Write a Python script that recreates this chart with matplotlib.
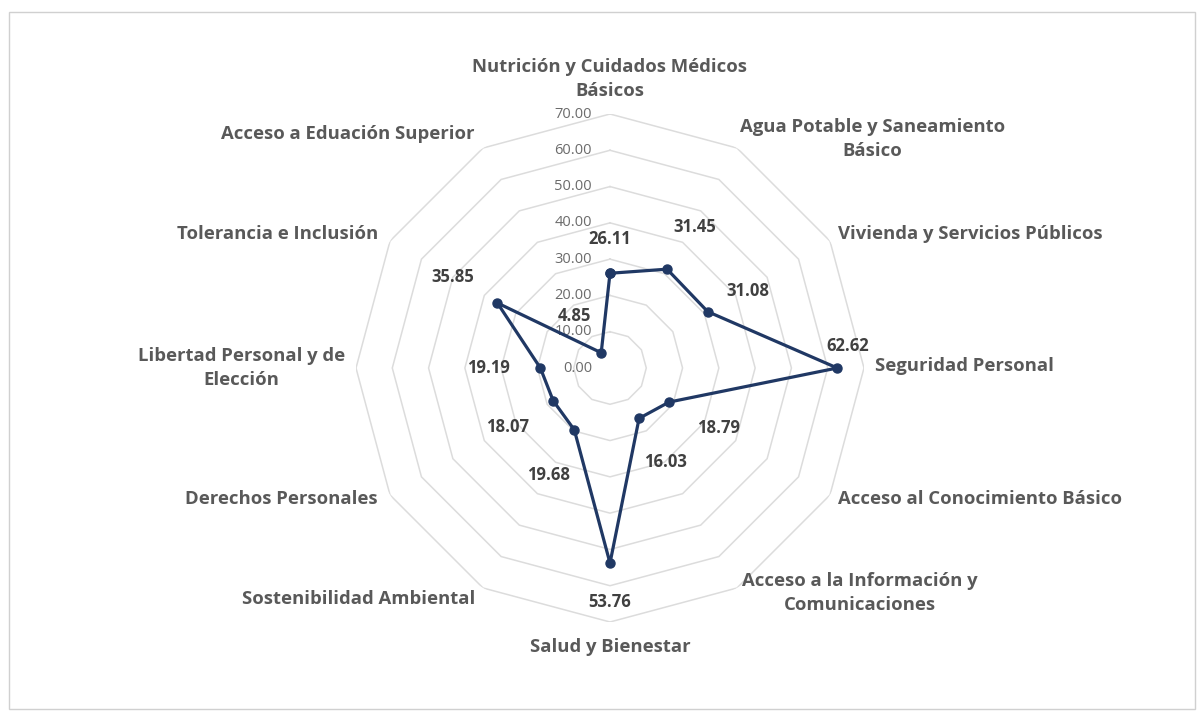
import numpy as np
import matplotlib
matplotlib.use("Agg")
import matplotlib.pyplot as plt
from matplotlib.patches import Rectangle

categories = [
    "Nutrición y Cuidados Médicos\nBásicos",
    "Agua Potable y Saneamiento\nBásico",
    "Vivienda y Servicios Públicos",
    "Seguridad Personal",
    "Acceso al Conocimiento Básico",
    "Acceso a la Información y\nComunicaciones",
    "Salud y Bienestar",
    "Sostenibilidad Ambiental",
    "Derechos Personales",
    "Libertad Personal y de\nElección",
    "Tolerancia e Inclusión",
    "Acceso a Eduación Superior",
]
values = [26.11, 31.45, 31.08, 62.62, 18.79, 16.03, 53.76, 19.68, 18.07, 19.19, 35.85, 4.85]
ticks = [0, 10, 20, 30, 40, 50, 60, 70]

# styling / placement (pixels)
value_label_offsets = [(0, 34), (28, 42), (40, 21), (10, 22), (49, -26), (26, -44),
                       (0, -39), (-26, -45), (-46, -26), (-52, 0), (-45, 26), (-27, 37)]
cat_label_place = [  # (dx, dy, ha, va)
    (0, 14, "center", "bottom"),
    (3, -12, "left", "bottom"),
    (8, 7, "left", "center"),
    (11, 2, "left", "center"),
    (8, -4, "left", "center"),
    (5, 16, "left", "top"),
    (0, -16, "center", "top"),
    (-8, -11, "right", "center"),
    (-12, -4, "right", "center"),
    (-11, 0, "right", "center"),
    (-12, 7, "right", "center"),
    (-8, 14, "right", "center"),
]

plt.rcParams["font.family"] = ["Open Sans", "DejaVu Sans"]

W, H = 1197, 718
fig = plt.figure(figsize=(W / 100, H / 100), dpi=100)
fig.patch.set_facecolor("white")

# border
fig.add_artist(Rectangle((9 / W, 1 - 709 / H), (1195 - 9) / W, (709 - 12) / H,
                         transform=fig.transFigure, fill=False, edgecolor="#D0D0D0", lw=1))

cx, cy, R = 610, 368, 254
ax = fig.add_axes([(cx - R) / W, (H - cy - R) / H, 2 * R / W, 2 * R / H], projection="polar")
ax.set_theta_zero_location("N")
ax.set_theta_direction(-1)
ax.set_ylim(0, 70)
ax.set_xticks([])
ax.set_yticks([])
ax.grid(False)
ax.spines["polar"].set_visible(False)
ax.patch.set_alpha(0)

n = len(categories)
angles = np.arange(n) * 2 * np.pi / n
ang_closed = np.append(angles, angles[0])

# polygon grid
for t in ticks[1:]:
    ax.plot(ang_closed, [t] * (n + 1), color="#DCDCDC", lw=1.1, zorder=1)

# tick labels
for t in ticks:
    ax.annotate(f"{t:.2f}", xy=(0, t), xytext=(-18, 0), textcoords="offset pixels",
                ha="right", va="center", fontsize=10.5, color="#6b6b6b", zorder=2)

# data line
vals_closed = values + [values[0]]
ax.plot(ang_closed, vals_closed, color="#203864", lw=2.3, marker="o", markersize=6.5,
        markerfacecolor="#203864", markeredgecolor="#203864", zorder=4, clip_on=False)

# value labels
for a, v, (dx, dy) in zip(angles, values, value_label_offsets):
    ax.annotate(f"{v:.2f}", xy=(a, v), xytext=(dx, dy), textcoords="offset pixels",
                ha="center", va="center", fontsize=12, fontweight="bold", color="#404040", zorder=5)

# category labels
for a, lab, (dx, dy, ha, va) in zip(angles, categories, cat_label_place):
    ax.annotate(lab, xy=(a, 70), xytext=(dx, dy), textcoords="offset pixels",
                ha=ha, va=va, multialignment="center", fontsize=13.3, fontweight="bold",
                color="#595959", linespacing=1.45, annotation_clip=False)

fig.savefig("out.png", dpi=100, facecolor="white")
